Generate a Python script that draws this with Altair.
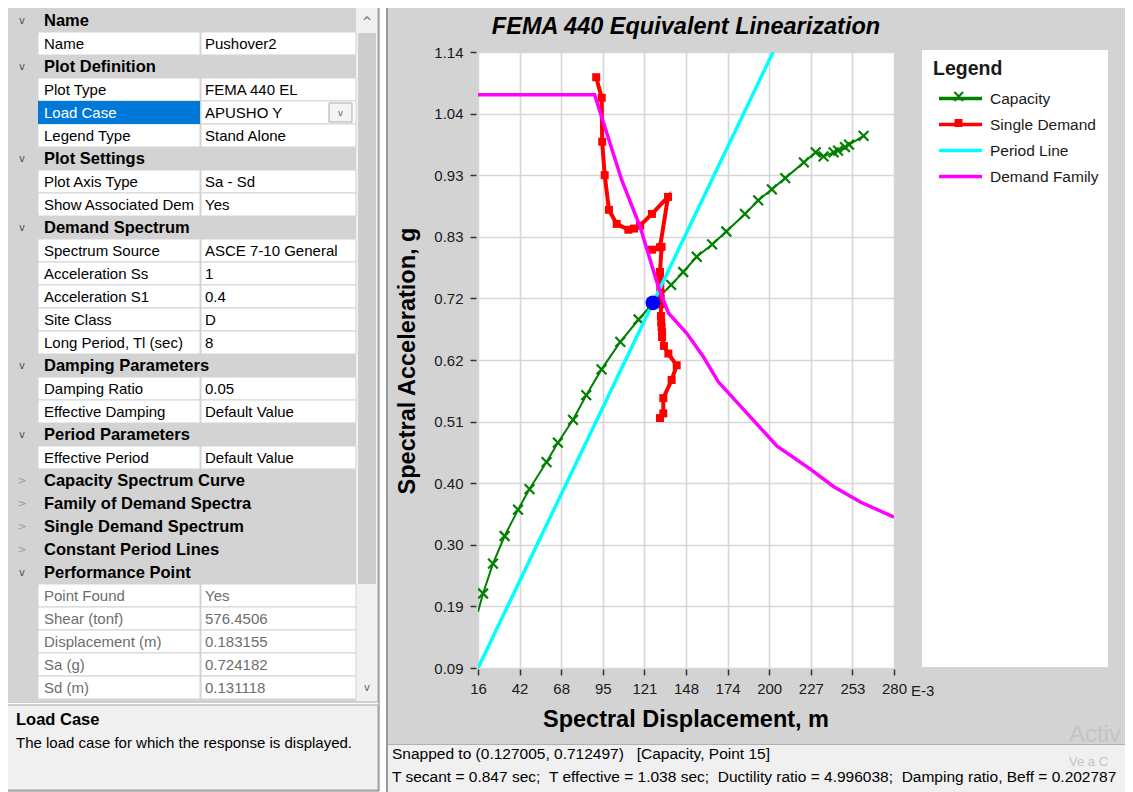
import altair as alt
import pandas as pd

FONT = "Liberation Sans"
OX, OY = 478, 52          # page position of the plot origin
W, H = 416, 616           # plot area size

# ---------------- chart data (Sd in 1e-3 m, Sa in g) ----------------
CAP_SD = [16.0, 19.2, 25.5, 32.9, 41.4, 48.7, 59.5, 66.7, 76.3, 84.7, 94.4, 106.3, 117.9,
          127.0, 138.6, 146.2, 154.8, 164.6, 173.6, 185.4, 193.8, 202.5, 211.0, 222.8,
          230.3, 235.3, 241.7, 244.5, 248.9, 251.5, 260.7]
CAP_SA = [0.186, 0.217, 0.268, 0.315, 0.360, 0.395, 0.441, 0.474, 0.513, 0.555, 0.599, 0.646, 0.684,
          0.712, 0.743, 0.765, 0.791, 0.812, 0.834, 0.864, 0.887, 0.906, 0.925, 0.952,
          0.969, 0.962, 0.969, 0.972, 0.978, 0.982, 0.997]

DEM_SD = [91.0, 94.5, 94.8, 96.4, 99.1, 104.0, 111.4, 115.0, 118.8, 126.4, 136.6, 131.5, 126.4,
          132.5, 131.5, 131.6, 131.7, 131.8, 131.9, 132.1, 132.1, 132.3, 132.5, 132.8, 132.8,
          134.0, 136.8, 142.1, 138.9, 133.6, 133.6, 131.5]
DEM_SA = [1.097, 1.062, 0.987, 0.930, 0.871, 0.847, 0.837, 0.839, 0.844, 0.864, 0.893, 0.807, 0.803,
          0.808, 0.765, 0.752, 0.740, 0.729, 0.719, 0.710, 0.690, 0.680, 0.671, 0.662, 0.654,
          0.639, 0.626, 0.606, 0.581, 0.550, 0.524, 0.516]

PER_SD = [16.0, 203.3]
PER_SA = [0.09, 1.14]

FAM_SD = [16.0, 90.0, 107.3, 118.9, 130.5, 136.9, 148.6, 159.1, 168.7, 186.8, 205.8, 226.9,
          241.8, 258.7, 280.0]
FAM_SA = [1.067, 1.067, 0.921, 0.842, 0.739, 0.695, 0.660, 0.620, 0.577, 0.524, 0.468, 0.429,
          0.399, 0.373, 0.347]

PP_SD = [127.005]
PP_SA = [0.712497]

SERIES = ["Capacity", "Single Demand", "Period Line", "Demand Family"]
SERIES_COLORS = ["#008000", "#FF0000", "#00FFFF", "#FF00FF"]

X_TICKS = [16, 42.4, 68.8, 95.2, 121.6, 148, 174.4, 200.8, 227.2, 253.6, 280]
X_TICK_LABELS = ["16", "42", "68", "95", "121", "148", "174", "200", "227", "253", "280"]
Y_TICKS = [0.09, 0.195, 0.3, 0.405, 0.51, 0.615, 0.72, 0.825, 0.93, 1.035, 1.14]
Y_TICK_LABELS = ["0.09", "0.19", "0.30", "0.40", "0.51", "0.62", "0.72", "0.83", "0.93", "1.04", "1.14"]

# ---------------- property grid text ----------------
GRID_KIND = ["cat", "prop", "cat", "prop", "sel", "prop", "cat", "prop", "prop", "cat",
             "prop", "prop", "prop", "prop", "prop", "cat", "prop", "prop", "cat", "prop",
             "catc", "catc", "catc", "catc", "cat", "ro", "ro", "ro", "ro", "ro"]
GRID_NAME = ["Name", "Name", "Plot Definition", "Plot Type", "Load Case", "Legend Type",
             "Plot Settings", "Plot Axis Type", "Show Associated Dem", "Demand Spectrum",
             "Spectrum Source", "Acceleration Ss", "Acceleration S1", "Site Class",
             "Long Period, Tl (sec)", "Damping Parameters", "Damping Ratio", "Effective Damping",
             "Period Parameters", "Effective Period", "Capacity Spectrum Curve",
             "Family of Demand Spectra", "Single Demand Spectrum", "Constant Period Lines",
             "Performance Point", "Point Found", "Shear (tonf)", "Displacement (m)", "Sa (g)", "Sd (m)"]
GRID_VALUE = ["", "Pushover2", "", "FEMA 440 EL", "APUSHO Y", "Stand Alone", "", "Sa - Sd", "Yes", "",
              "ASCE 7-10 General", "1", "0.4", "D", "8", "", "0.05", "Default Value", "",
              "Default Value", "", "", "", "", "", "Yes", "576.4506", "0.183155", "0.724182", "0.131118"]

DESC_TITLE = "Load Case"
DESC_TEXT = "The load case for which the response is displayed."
STATUS_1 = "Snapped to (0.127005, 0.712497)\u00a0\u00a0\u00a0[Capacity, Point 15]"
STATUS_2 = ("T secant = 0.847 sec;\u00a0\u00a0T effective = 1.038 sec;\u00a0\u00a0Ductility ratio = 4.996038;"
            "\u00a0\u00a0Damping ratio, Beff = 0.202787")
CHART_TITLE = "FEMA 440 Equivalent Linearization"
X_TITLE = "Spectral Displacement, m"
Y_TITLE = "Spectral Acceleration, g"

# ---------------- helpers ----------------
ONE = pd.DataFrame({"k": [0]})
TXT = 15      # normal UI text size
BTXT = 16.5   # bold UI text size


def crect(x1, y1, x2, y2, fill, stroke=None, sw=1.0):
    kw = dict(fill=fill, strokeWidth=0)
    if stroke:
        kw.update(stroke=stroke, strokeWidth=sw)
    return alt.Chart(ONE).mark_rect(**kw).encode(
        x=alt.value(x1 - OX), x2=alt.value(x2 - OX),
        y=alt.value(y1 - OY), y2=alt.value(y2 - OY))


def ctext(s, x, y, size=TXT, weight="normal", color="#000000", align="left",
          style="normal", font=FONT, angle=0, opacity=1.0):
    kw = dict(text=s, font=font, fontSize=size, fontWeight=weight, color=color,
              align=align, baseline="middle", fontStyle=style, opacity=opacity)
    if angle:
        kw["angle"] = angle
    return alt.Chart(ONE).mark_text(**kw).encode(x=alt.value(x - OX), y=alt.value(y - OY))


# ---------------- property grid (left panel) ----------------
gdf = pd.DataFrame({"r": list(range(len(GRID_NAME))), "kind": GRID_KIND,
                    "name": GRID_NAME, "value": GRID_VALUE})
gdf["top"] = gdf["r"]
gdf["bot"] = gdf["r"] + 1
gdf["mid"] = gdf["r"] + 0.5
gdf["chev"] = ["v" if k == "cat" else (">" if k == "catc" else "") for k in GRID_KIND]

GY = alt.Scale(domain=[0, 30], range=[9 - OY, 699 - OY])


def gy(field):
    return alt.Y(f"{field}:Q", scale=GY, axis=None)


gbase = alt.Chart(gdf)
IS_PROP = "datum.kind=='prop'||datum.kind=='ro'||datum.kind=='sel'"

grid_layers = [
    gbase.transform_filter(IS_PROP).mark_rect(fill="white", stroke="#D3D3D3", strokeWidth=1).encode(
        x=alt.value(38 - OX), x2=alt.value(200 - OX), y=gy("top"), y2="bot:Q"),
    gbase.transform_filter(IS_PROP).mark_rect(fill="white", stroke="#D3D3D3", strokeWidth=1).encode(
        x=alt.value(201 - OX), x2=alt.value(356 - OX), y=gy("top"), y2="bot:Q"),
    gbase.transform_filter("datum.kind=='sel'").mark_rect(fill="#0078D7", strokeWidth=0).encode(
        x=alt.value(38 - OX), x2=alt.value(200 - OX), y=gy("top"), y2="bot:Q"),
    gbase.transform_filter("datum.kind=='sel'").mark_rect(
        fill="#F4F4F4", stroke="#ABABAB", strokeWidth=1, yOffset=2, y2Offset=-2).encode(
        x=alt.value(329 - OX), x2=alt.value(352 - OX), y=gy("top"), y2="bot:Q"),
    gbase.transform_filter("datum.kind=='sel'").mark_text(
        text="v", font="DejaVu Sans", fontSize=9, color="#606060", align="center", baseline="middle").encode(
        x=alt.value(340.5 - OX), y=gy("mid")),
    gbase.transform_filter("datum.kind=='cat'||datum.kind=='catc'").mark_text(
        font=FONT, fontSize=BTXT, fontWeight="bold", color="#000000", align="left", baseline="middle").encode(
        x=alt.value(44 - OX), y=gy("mid"), text="name:N"),
    gbase.transform_filter("datum.kind=='cat'").mark_text(
        font="DejaVu Sans", fontSize=10, color="#505050", align="center", baseline="middle").encode(
        x=alt.value(22 - OX), y=gy("mid"), text="chev:N"),
    gbase.transform_filter("datum.kind=='catc'").mark_text(
        font="DejaVu Sans", fontSize=11, color="#9A9A9A", align="center", baseline="middle").encode(
        x=alt.value(22 - OX), y=gy("mid"), text="chev:N"),
    gbase.transform_filter("datum.kind=='prop'").mark_text(
        font=FONT, fontSize=TXT, color="#000000", align="left", baseline="middle").encode(
        x=alt.value(44 - OX), y=gy("mid"), text="name:N"),
    gbase.transform_filter("datum.kind=='sel'").mark_text(
        font=FONT, fontSize=TXT, color="#FFFFFF", align="left", baseline="middle").encode(
        x=alt.value(44 - OX), y=gy("mid"), text="name:N"),
    gbase.transform_filter("datum.kind=='ro'").mark_text(
        font=FONT, fontSize=TXT, color="#6D6D6D", align="left", baseline="middle").encode(
        x=alt.value(44 - OX), y=gy("mid"), text="name:N"),
    gbase.transform_filter("datum.kind=='prop'||datum.kind=='sel'").mark_text(
        font=FONT, fontSize=TXT, color="#000000", align="left", baseline="middle").encode(
        x=alt.value(205 - OX), y=gy("mid"), text="value:N"),
    gbase.transform_filter("datum.kind=='ro'").mark_text(
        font=FONT, fontSize=TXT, color="#6D6D6D", align="left", baseline="middle").encode(
        x=alt.value(205 - OX), y=gy("mid"), text="value:N"),
]

chrome = alt.layer(
    crect(0, 0, 387, 792, "#FFFFFF"),
    crect(8, 8, 356, 701, "#D3D3D3"),
    crect(356, 8, 378, 701, "#F0F0F0"),
    crect(358, 33, 376, 584, "#CDCDCD"),
    ctext("^", 367, 22, size=12, color="#606060", align="center", font="DejaVu Sans"),
    ctext("v", 367, 688, size=10, color="#606060", align="center", font="DejaVu Sans"),
    *grid_layers,
    crect(6, 7, 378, 702, "transparent", stroke="#A0A0A0"),
    crect(6, 705, 378, 790, "#F0F0F0", stroke="#A0A0A0"),
    ctext(DESC_TITLE, 16, 720, size=BTXT, weight="bold"),
    ctext(DESC_TEXT, 16, 743, size=TXT),
    crect(5, 5, 379, 791, "transparent", stroke="#7A7A7A"),
    crect(386, 5, 388, 792, "#9A9A9A"),
    crect(388, 745, 1133, 792, "#F0F0F0"),
    crect(388, 744, 1133, 745, "#B0B0B0"),
    ctext("Activ", 1069, 735, size=24, color="#C4C4C4"),
    ctext("Ve a C", 1069, 762, size=13, color="#C4C4C4"),
    ctext(STATUS_1, 392, 754, size=15.5),
    ctext(STATUS_2, 392, 777, size=15.5),
    crect(922, 50, 1108, 667, "#FFFFFF"),
    ctext(CHART_TITLE, 686, 27, size=23.5, weight="bold", style="italic", align="center"),
    ctext(Y_TITLE, 408, 361, size=23.5, weight="bold", align="center", angle=270),
    ctext(X_TITLE, 686, 720, size=23.5, weight="bold", align="center"),
    ctext("E-3", 911, 691, size=15, color="#1A1A1A"),
    ctext("\u00d7", 958.5, 97, size=17, weight="bold", color="#008000", align="center", font="DejaVu Sans"),
    crect(954.5, 119, 962.5, 127, "#FF0000"),
)

# ---------------- plot ----------------
XS = alt.Scale(domain=[16, 280], nice=False, zero=False)
YS = alt.Scale(domain=[0.09, 1.14], nice=False, zero=False)


def lookup_expr(vals, labels):
    return ("[" + ",".join(repr(s) for s in labels) + "][indexof([" +
            ",".join(repr(v) for v in vals) + "], datum.value)]")


AX_COMMON = dict(grid=True, gridColor="#D6D6D6", gridWidth=1.6, domain=False, ticks=True,
                 tickSize=6, tickColor="#333333", tickWidth=1.5, labelFont=FONT, labelFontSize=15,
                 labelColor="#1A1A1A", labelOverlap=False, labelFlush=False, title=None)
XAX = alt.Axis(values=X_TICKS, labelExpr=lookup_expr(X_TICKS, X_TICK_LABELS), offset=1,
               labelPadding=6, **AX_COMMON)
YAX = alt.Axis(values=Y_TICKS, labelExpr=lookup_expr(Y_TICKS, Y_TICK_LABELS), offset=2,
               labelPadding=7, **AX_COMMON)

LEG = alt.Legend(title="Legend", orient="none", legendX=922 - OX, legendY=49 - OY, padding=11,
                 titleFont=FONT, titleFontSize=19.5, titleFontWeight="bold", titleColor="#1A1A1A",
                 titlePadding=6, labelFont=FONT, labelFontSize=15.5, labelColor="#1A1A1A",
                 labelOffset=6, symbolType="stroke", symbolSize=1849, symbolStrokeWidth=3.5,
                 symbolOffset=4, clipHeight=26, rowPadding=0, zindex=1)
COLOR = alt.Color("series:N", scale=alt.Scale(domain=SERIES, range=SERIES_COLORS), legend=LEG)


def sdf(sd, sa, name):
    return pd.DataFrame({"sd": sd, "sa": sa, "i": list(range(len(sd))), "series": name})


cap_df = sdf(CAP_SD, CAP_SA, "Capacity")
dem_df = sdf(DEM_SD, DEM_SA, "Single Demand")
per_df = sdf(PER_SD, PER_SA, "Period Line")
fam_df = sdf(FAM_SD, FAM_SA, "Demand Family")
pp_df = sdf(PP_SD, PP_SA, "Performance Point")

XE = alt.X("sd:Q", scale=XS, axis=XAX)
YE = alt.Y("sa:Q", scale=YS, axis=YAX)
XPATH = "M-1,-1L1,1M-1,1L1,-1"

plot = alt.layer(
    alt.Chart(cap_df).mark_line(strokeWidth=2, clip=True).encode(x=XE, y=YE, order="i:Q", color=COLOR),
    alt.Chart(cap_df).transform_filter("datum.i > 0").mark_point(
        shape=XPATH, size=95, filled=False, stroke="#008000", strokeWidth=2.2, opacity=1, clip=True).encode(
        x=XE, y=YE),
    alt.Chart(dem_df).mark_line(strokeWidth=4, clip=True).encode(x=XE, y=YE, order="i:Q", color=COLOR),
    alt.Chart(dem_df).mark_square(size=64, color="#FF0000", opacity=1, clip=True).encode(x=XE, y=YE),
    alt.Chart(per_df).mark_line(strokeWidth=3.5, clip=True).encode(x=XE, y=YE, order="i:Q", color=COLOR),
    alt.Chart(fam_df).mark_line(strokeWidth=3.5, clip=True).encode(x=XE, y=YE, order="i:Q", color=COLOR),
    alt.Chart(pp_df).mark_circle(size=220, color="#0000FF", opacity=1).encode(x=XE, y=YE),
)

chart = alt.layer(chrome, plot).resolve_scale(y="independent").properties(
    width=W, height=H, autosize="none",
    padding={"left": OX - 8, "top": OY - 8, "right": 1125 - OX - W, "bottom": 792 - OY - H},
    background="#D3D3D3",
).configure_view(stroke=None, fill="white")

chart.save("out.html", embed_options={"renderer": "svg", "actions": False})
